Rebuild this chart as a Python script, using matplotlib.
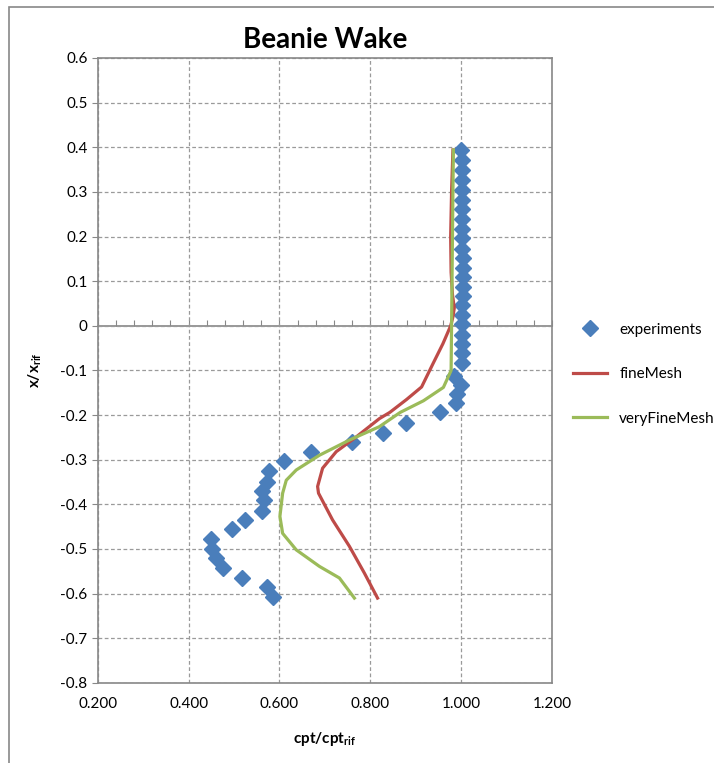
import matplotlib
matplotlib.use('Agg')
import matplotlib.pyplot as plt
import matplotlib.ticker as ticker
from matplotlib.patches import Rectangle

plt.rcParams['font.family'] = ['Lato', 'DejaVu Sans']

# experiments (diamonds)
exp_x = [1.0, 1.002, 1.003, 1.003, 1.002, 1.003, 1.003, 1.002, 1.003, 1.003, 1.003,
         1.004, 1.004, 1.004, 1.004, 1.004, 1.003, 1.003, 1.003, 1.003, 1.003, 1.003,
         1.003, 0.985, 1.0, 0.992, 0.989, 0.954, 0.878, 0.827, 0.760, 0.670, 0.611,
         0.578, 0.572, 0.562, 0.566, 0.562, 0.524, 0.496, 0.450, 0.451, 0.461, 0.475,
         0.518, 0.572, 0.585]
exp_y = [0.394, 0.372, 0.349, 0.327, 0.304, 0.282, 0.261, 0.239, 0.217, 0.196, 0.173,
         0.152, 0.130, 0.109, 0.088, 0.067, 0.046, 0.025, 0.003, -0.020, -0.040, -0.061,
         -0.083, -0.112, -0.132, -0.153, -0.173, -0.194, -0.218, -0.240, -0.260, -0.282,
         -0.303, -0.325, -0.349, -0.370, -0.390, -0.414, -0.435, -0.456, -0.477, -0.500,
         -0.520, -0.543, -0.564, -0.585, -0.608]

# fineMesh
fine_x = [0.982, 0.979, 0.977, 0.978, 0.981, 0.985, 0.982, 0.977, 0.960, 0.938,
          0.913, 0.880, 0.843, 0.820, 0.769, 0.725, 0.695, 0.684, 0.686, 0.717,
          0.754, 0.787, 0.816]
fine_y = [0.394, 0.30, 0.20, 0.12, 0.07, 0.04, 0.02, 0.0, -0.04, -0.085,
          -0.137, -0.165, -0.194, -0.208, -0.249, -0.282, -0.319, -0.360, -0.375, -0.435,
          -0.494, -0.554, -0.610]

# veryFineMesh
vfine_x = [0.983, 0.982, 0.981, 0.980, 0.979, 0.978, 0.961, 0.917, 0.866, 0.820,
           0.754, 0.688, 0.637, 0.615, 0.607, 0.601, 0.607, 0.637, 0.688, 0.732, 0.765]
vfine_y = [0.394, 0.30, 0.20, 0.10, 0.0, -0.10, -0.138, -0.168, -0.194, -0.226,
           -0.256, -0.290, -0.323, -0.346, -0.375, -0.427, -0.465, -0.502, -0.539, -0.565, -0.610]

fig = plt.figure(figsize=(7.14, 7.63), dpi=100)
ax = fig.add_axes([0.137, 0.105, 0.636, 0.819])

# outer chart frame
fig.patches.append(Rectangle((0.012, -0.1), 1.2, 1.091, transform=fig.transFigure,
                             fill=False, edgecolor='#888888', linewidth=1.2))

ax.plot(exp_x, exp_y, linestyle='none', marker='D', markersize=8,
        color='#4A7EBB', label='experiments', zorder=3)
ax.plot(fine_x, fine_y, color='#BE4B48', linewidth=2.3, label='fineMesh', zorder=4)
ax.plot(vfine_x, vfine_y, color='#9BBB59', linewidth=2.3, label='veryFineMesh', zorder=4)

ax.set_xlim(0.2, 1.2)
ax.set_ylim(-0.8, 0.6)
ax.xaxis.set_major_locator(ticker.MultipleLocator(0.2))
ax.yaxis.set_major_locator(ticker.MultipleLocator(0.1))
ax.xaxis.set_major_formatter(ticker.FuncFormatter(lambda v, p: '%.3f' % v))

def fmt_y(v, pos=None):
    if abs(v) < 1e-9:
        return '0'
    return '%.1f' % v

ax.yaxis.set_major_formatter(ticker.FuncFormatter(fmt_y))
ax.grid(True, color='#9a9a9a', linestyle=(0, (3, 2)), linewidth=0.9)
ax.tick_params(axis='x', length=0, labelsize=11, pad=10)
ax.tick_params(axis='y', length=4, direction='out', color='#888888', labelsize=11)
for s in ax.spines.values():
    s.set_color('#888888')
    s.set_linewidth(1.2)

# horizontal axis crossing at y = 0 with small ticks
sec = ax.secondary_xaxis(0.8 / 1.4)
sec.xaxis.set_major_locator(ticker.MultipleLocator(0.04))
sec.xaxis.set_major_formatter(ticker.NullFormatter())
sec.tick_params(length=4, direction='out', color='#888888',
                labelbottom=False, labeltop=False)
for s in sec.spines.values():
    s.set_color('#888888')
    s.set_linewidth(1.2)

ax.set_title('Beanie Wake', fontsize=20, fontweight='bold', pad=7)
ax.set_xlabel('cpt/cpt$_{\\mathregular{rif}}$', fontsize=11, fontweight='bold', labelpad=14)
ax.set_ylabel('x/x$_{\\mathregular{rif}}$', fontsize=11, fontweight='bold', labelpad=12)

ax.legend(loc='center left', bbox_to_anchor=(1.0, 0.494), frameon=False, fontsize=11,
          labelspacing=2.0, handlelength=2.2, borderaxespad=1.0)

plt.savefig('out.png', dpi=100)
